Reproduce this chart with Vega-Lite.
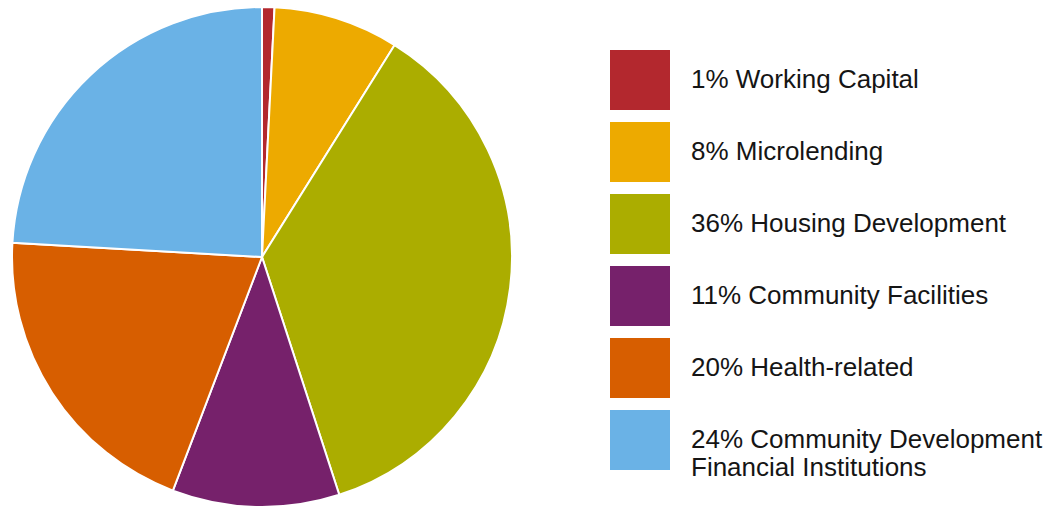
{
  "$schema": "https://vega.github.io/schema/vega-lite/v6.json",
  "width": 524,
  "height": 514,
  "padding": 0,
  "autosize": {"type": "pad"},
  "background": "white",
  "config": {"view": {"stroke": null}},
  "data": {
    "values": [
      {"label": "1% Working Capital", "value": 0.8, "order": 1},
      {"label": "8% Microlending", "value": 8.1, "order": 2},
      {"label": "36% Housing Development", "value": 36.1, "order": 3},
      {"label": "11% Community Facilities", "value": 10.8, "order": 4},
      {"label": "20% Health-related", "value": 20.1, "order": 5},
      {"label": "24% Community Development Financial Institutions", "value": 24.1, "order": 6}
    ]
  },
  "mark": {"type": "arc", "outerRadius": 250, "stroke": "white", "strokeWidth": 2},
  "encoding": {
    "theta": {"field": "value", "type": "quantitative", "stack": true},
    "order": {"field": "order", "type": "quantitative"},
    "color": {
      "field": "label",
      "type": "nominal",
      "scale": {
        "domain": ["1% Working Capital", "8% Microlending", "36% Housing Development", "11% Community Facilities", "20% Health-related", "24% Community Development Financial Institutions"],
        "range": ["#B3282E", "#EDAA00", "#ABAD00", "#76216B", "#D75E00", "#6AB2E6"]
      },
      "legend": {
        "title": null,
        "orient": "none",
        "legendX": 610,
        "legendY": 50,
        "padding": 0,
        "symbolType": "square",
        "symbolSize": 3600,
        "symbolStrokeWidth": 0,
        "labelFont": "Liberation Sans",
        "labelFontSize": 26,
        "labelColor": "#151515",
        "labelOffset": 21,
        "labelLimit": 0,
        "rowPadding": 12,
        "labelExpr": "datum.index == 5 ? ['24% Community Development', 'Financial Institutions'] : datum.label",
        "encode": {
          "labels": {"update": {
            "dy": {"signal": "datum.index == 5 ? 16 : 0"},
            "dx": {"signal": "datum.index == 1 ? 6 : 0"},
            "lineHeight": {"value": 31}
          }}
        }
      }
    }
  }
}
